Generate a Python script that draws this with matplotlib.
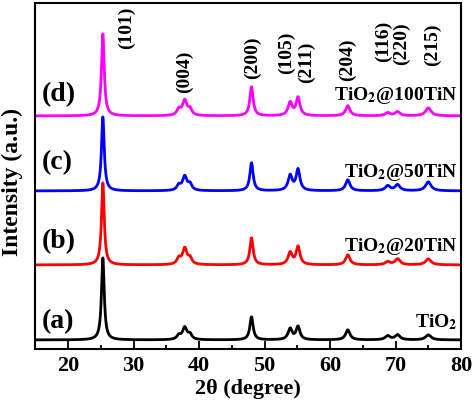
import numpy as np
import matplotlib
matplotlib.use("Agg")
import matplotlib.pyplot as plt
from matplotlib.ticker import MultipleLocator

plt.rcParams["font.family"] = ["Liberation Serif", "DejaVu Serif"]
plt.rcParams["font.weight"] = "bold"
plt.rcParams["mathtext.fontset"] = "stix"

# ── peak table (2θ, FWHM) ───────────────────────────────
peak_pos   = [25.3, 36.9, 37.8, 38.6, 48.0, 53.9, 55.1, 62.7, 68.8, 70.3, 75.0]
peak_width = [0.5, 0.7, 0.8, 0.7, 0.6, 0.75, 0.7, 0.8, 0.9, 0.9, 1.0]

# heights per sample (a.u.)
h_a = [82, 4, 12, 5, 23, 11, 13, 10, 4, 5, 5]
h_b = [82, 6, 16, 6, 27, 12, 18, 10, 3, 6, 6]
h_c = [74, 5, 14, 6, 28, 15, 21, 11, 5, 6, 9]
h_d = [82, 6, 15, 6, 29, 13, 18, 10, 3, 4, 8]

offsets  = [9, 84, 158, 233]
colors   = ["black", "#ff0000", "#0000ff", "#ff00ff"]
letters  = ["(a)", "(b)", "(c)", "(d)"]
samples  = [r"TiO$_\mathbf{2}$", r"TiO$_\mathbf{2}$@20TiN",
            r"TiO$_\mathbf{2}$@50TiN", r"TiO$_\mathbf{2}$@100TiN"]
letter_y = [27, 107, 186, 254]
sample_y = [27, 102, 176, 253]

hkl_labels = ["(101)", "(004)", "(200)", "(105)", "(211)", "(204)",
              "(116)", "(220)", "(215)"]
hkl_x = [28.9, 37.8, 48.2, 53.3, 56.4, 62.7, 68.1, 70.9, 75.7]
hkl_y = [321, 277, 291, 296, 287, 289, 308, 305, 304]

x = np.linspace(15, 80, 4000)


def pattern(heights):
    y = np.zeros_like(x)
    for c, w, h in zip(peak_pos, peak_width, heights):
        y += h / (1 + ((x - c) / (w / 2)) ** 2)
    return y


fig = plt.figure(figsize=(4.74, 4.11), dpi=100)
ax = fig.add_axes([0.0747, 0.151, 0.898, 0.842])

for heights, off, col in zip([h_a, h_b, h_c, h_d], offsets, colors):
    ax.plot(x, pattern(heights) + off, color=col, lw=2.0)

for lab, yy in zip(letters, letter_y):
    ax.text(16.0, yy, lab, fontsize=20, fontweight="bold", va="center", ha="left")
for lab, yy in zip(samples, sample_y):
    ax.text(79.4, yy, lab, fontsize=14, fontweight="bold", va="center", ha="right")
for lab, xx, yy in zip(hkl_labels, hkl_x, hkl_y):
    ax.text(xx, yy, lab, fontsize=14, fontweight="bold", rotation=90,
            va="center", ha="center")

ax.set_xlim(15, 80)
ax.set_ylim(0, 346)
ax.xaxis.set_major_locator(MultipleLocator(10))
ax.xaxis.set_minor_locator(MultipleLocator(5))
ax.tick_params(axis="x", which="major", direction="in", length=6, width=1.3,
               labelsize=16, pad=5)
ax.tick_params(axis="x", which="minor", direction="in", length=3, width=1.3)
ax.set_yticks([])
for sp in ax.spines.values():
    sp.set_linewidth(1.5)
for lbl in ax.get_xticklabels():
    lbl.set_fontweight("bold")

ax.set_xlabel("2θ (degree)", fontsize=16, fontweight="bold", labelpad=2)
ax.set_ylabel("Intensity (a.u.)", fontsize=17, fontweight="bold")
ax.yaxis.set_label_coords(-0.029, 0.483)

fig.savefig("out.png", dpi=100)
